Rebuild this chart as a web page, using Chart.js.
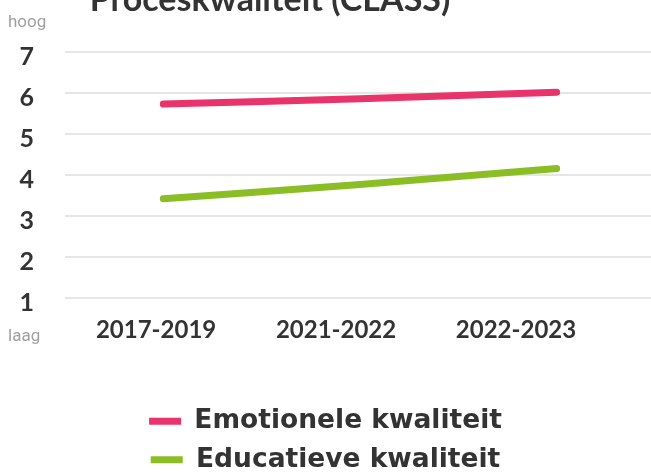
<!DOCTYPE html>
<html>
<head>
<meta charset="utf-8">
<script src="https://cdn.jsdelivr.net/npm/chart.js@4/dist/chart.umd.min.js"></script>
<style>
  html, body { margin: 0; padding: 0; background: #ffffff; }
  #wrap { width: 651px; height: 472px; position: relative; }
</style>
</head>
<body>
<div id="wrap"><canvas id="c"></canvas></div>
<script>
const title = 'Proceskwaliteit (CLASS)';
const categories = ['2017-2019', '2021-2022', '2022-2023'];
const emotionele = [5.73, 5.86, 6.02];
const educatieve = [3.42, 3.77, 4.16];
const seriesNames = ['Emotionele kwaliteit', 'Educatieve kwaliteit'];
const yTicks = [1, 2, 3, 4, 5, 6, 7];
const topLabel = 'hoog';
const bottomLabel = 'laag';

const PINK = '#e8336b';
const GREEN = '#8bbd24';
const DARK = '#333333';
const FONT = 'Lato, "Open Sans", sans-serif';
const WIDE = '"DejaVu Sans", sans-serif';

const toPoints = arr => arr.map((v, i) => ({ x: i, y: v }));

const extraText = {
  id: 'extraText',
  afterDraw(chart) {
    const ctx = chart.ctx;
    const y = chart.scales.y;
    ctx.save();
    ctx.fillStyle = DARK;
    ctx.font = 'bold 34px ' + FONT;
    ctx.textAlign = 'center';
    ctx.textBaseline = 'alphabetic';
    ctx.fillText(title, 270, 11);
    ctx.fillStyle = '#a0a0a0';
    ctx.font = '17px Roboto, sans-serif';
    ctx.textAlign = 'left';
    ctx.fillText(topLabel, 8, y.getPixelForValue(7) - 25);
    ctx.fillText(bottomLabel, 8, y.getPixelForValue(1) + 43);
    ctx.restore();
  }
};

new Chart(document.getElementById('c'), {
  type: 'line',
  data: {
    datasets: [
      {
        label: seriesNames[0],
        data: toPoints(emotionele),
        borderColor: PINK,
        backgroundColor: PINK,
        borderWidth: 7,
        borderCapStyle: 'round',
        pointRadius: 0,
        tension: 0.3,
        xAxisID: 'x'
      },
      {
        label: seriesNames[1],
        data: toPoints(educatieve),
        borderColor: GREEN,
        backgroundColor: GREEN,
        borderWidth: 7,
        borderCapStyle: 'round',
        pointRadius: 0,
        tension: 0.3,
        xAxisID: 'x'
      }
    ]
  },
  options: {
    responsive: true,
    maintainAspectRatio: false,
    animation: false,
    layout: { padding: { top: 52, left: 0, right: 0, bottom: -11 } },
    scales: {
      x: {
        type: 'linear',
        display: false,
        min: -0.5,
        max: 2.48
      },
      xl: {
        type: 'linear',
        position: 'bottom',
        min: -0.506,
        max: 2.75,
        afterBuildTicks: s => { s.ticks = categories.map((c, i) => ({ value: i })); },
        afterFit: s => { s.height = 98; },
        grid: { display: false, drawTicks: false },
        border: { display: false },
        ticks: {
          autoSkip: false,
          maxRotation: 0,
          padding: 18,
          color: DARK,
          font: { family: FONT, size: 24, weight: 'bold' },
          callback: v => categories[v]
        }
      },
      y: {
        min: 1,
        max: 7,
        afterBuildTicks: s => { s.ticks = yTicks.map(v => ({ value: v })); },
        afterFit: s => { s.width = 65; },
        grid: { color: '#e6e6e6', lineWidth: 2, drawTicks: false },
        border: { display: false },
        ticks: {
          padding: 31,
          labelOffset: 5,
          color: DARK,
          font: { family: FONT, size: 25, weight: 'bold' }
        }
      }
    },
    plugins: {
      title: { display: false },
      tooltip: { enabled: false },
      legend: {
        display: true,
        position: 'bottom',
        labels: {
          boxWidth: 32,
          boxHeight: 7,
          padding: 12,
          color: DARK,
          font: { family: WIDE, size: 26.5, weight: 'bold' },
          generateLabels: chart => chart.data.datasets.map((d, i) => ({
            text: d.label,
            fillStyle: d.borderColor,
            strokeStyle: d.borderColor,
            lineWidth: 0,
            fontColor: DARK,
            hidden: false,
            datasetIndex: i
          }))
        }
      }
    }
  },
  plugins: [extraText]
});
</script>
</body>
</html>
